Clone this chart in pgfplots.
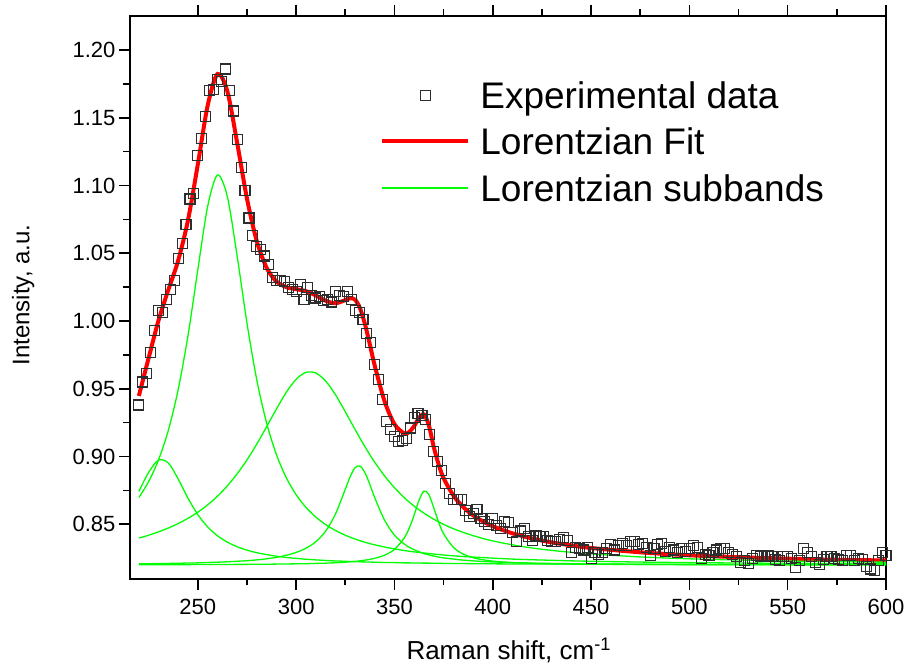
\documentclass[border=0pt]{standalone}
\usepackage{fontspec}
\setmainfont{Liberation Sans}
\usepackage{pgfplots}
\pgfplotsset{compat=1.18}
\usepackage{pgfplotstable}
\definecolor{fitred}{RGB}{255,0,0}
\definecolor{subgreen}{RGB}{0,255,0}
\definecolor{markgray}{RGB}{45,45,45}
\pgfplotsset{
  redleg/.style={legend image code/.code={\path (0pt,-20pt) (86pt,20pt); \draw[fitred, line width=4pt] (0pt,0pt) -- (86pt,0pt);}},
  greenleg/.style={legend image code/.code={\path (0pt,-20pt) (86pt,20pt); \draw[subgreen, line width=1.6pt] (0pt,0pt) -- (86pt,0pt);}},
  markleg/.style={legend image code/.code={\path (0pt,-20pt) (86pt,20pt); \draw[##1] plot coordinates {(43pt,0pt)};}},
}
\newcommand{\lrow}{\rule[-12pt]{0pt}{40pt}\hspace*{10pt}}

\pgfplotstableread{
x y
220 0.938
222 0.955
224 0.961
226 0.977
228 0.993
230 1.008
232 1.006
234 1.016
236 1.023
238 1.030
240 1.046
242 1.057
244 1.071
246 1.090
248 1.094
250 1.122
252 1.135
254 1.151
256 1.170
258 1.171
260 1.178
262 1.177
264 1.186
266 1.170
268 1.155
270 1.134
272 1.113
274 1.096
276 1.076
278 1.063
280 1.055
282 1.053
284 1.048
286 1.042
288 1.032
290 1.030
292 1.030
294 1.029
296 1.025
298 1.023
300 1.022
302 1.027
304 1.016
306 1.025
308 1.019
310 1.017
312 1.018
314 1.015
316 1.016
318 1.014
320 1.022
322 1.019
324 1.018
326 1.022
328 1.016
330 1.008
332 1.006
334 1.001
336 0.991
338 0.984
340 0.968
342 0.957
344 0.942
346 0.926
348 0.920
350 0.915
352 0.911
354 0.912
356 0.913
358 0.921
360 0.929
362 0.932
364 0.930
366 0.927
368 0.916
370 0.904
372 0.896
374 0.890
376 0.880
378 0.873
380 0.868
382 0.868
384 0.868
386 0.860
388 0.856
390 0.858
392 0.861
394 0.854
396 0.852
398 0.850
400 0.854
402 0.849
404 0.847
406 0.852
408 0.851
410 0.844
412 0.837
414 0.845
416 0.847
418 0.841
420 0.838
422 0.842
424 0.841
426 0.841
428 0.838
430 0.837
432 0.837
434 0.839
436 0.840
438 0.838
440 0.829
442 0.833
444 0.832
446 0.831
448 0.833
450 0.825
452 0.829
454 0.828
456 0.829
458 0.832
460 0.835
462 0.831
464 0.834
466 0.836
468 0.834
470 0.837
472 0.837
474 0.835
476 0.836
478 0.833
480 0.827
482 0.832
484 0.835
486 0.836
488 0.830
490 0.833
492 0.831
494 0.829
496 0.832
498 0.830
500 0.832
502 0.834
504 0.833
506 0.825
508 0.828
510 0.827
512 0.829
514 0.831
516 0.832
518 0.832
520 0.829
522 0.828
524 0.826
526 0.822
528 0.823
530 0.821
532 0.825
534 0.827
536 0.826
538 0.827
540 0.827
542 0.826
544 0.824
546 0.823
548 0.826
550 0.826
552 0.825
554 0.818
556 0.823
558 0.832
560 0.829
562 0.826
564 0.822
566 0.820
568 0.824
570 0.826
572 0.826
574 0.825
576 0.824
578 0.823
580 0.827
582 0.827
584 0.823
586 0.825
588 0.824
590 0.819
592 0.817
594 0.816
596 0.823
598 0.829
600 0.827
}\expdata

\pgfplotstableread{
x c1 c2 c3 c4 c5 fit
220 0.8742 0.8697 0.8398 0.8208 0.8202 0.9447
225 0.8883 0.8815 0.8419 0.8209 0.8202 0.9728
230 0.8974 0.8975 0.8444 0.8210 0.8202 1.0004
235 0.8952 0.9193 0.8472 0.8211 0.8202 1.0230
240 0.8834 0.9493 0.8505 0.8212 0.8202 1.0446
245 0.8692 0.9892 0.8544 0.8214 0.8202 1.0744
250 0.8571 1.0378 0.8589 0.8215 0.8203 1.1156
255 0.8480 1.0846 0.8643 0.8218 0.8203 1.1590
260 0.8415 1.1078 0.8707 0.8220 0.8203 1.1823
265 0.8368 1.0919 0.8783 0.8223 0.8203 1.1696
270 0.8334 1.0479 0.8872 0.8227 0.8204 1.1315
275 0.8309 0.9984 0.8975 0.8231 0.8204 1.0903
280 0.8290 0.9564 0.9092 0.8237 0.8205 1.0588
285 0.8276 0.9246 0.9220 0.8245 0.8205 1.0392
290 0.8264 0.9013 0.9351 0.8256 0.8206 1.0291
295 0.8255 0.8843 0.9474 0.8271 0.8207 1.0250
300 0.8248 0.8718 0.9570 0.8292 0.8208 1.0235
305 0.8242 0.8624 0.9621 0.8323 0.8209 1.0220
310 0.8237 0.8553 0.9616 0.8371 0.8211 1.0189
315 0.8233 0.8498 0.9557 0.8449 0.8213 1.0150
320 0.8229 0.8454 0.9456 0.8575 0.8216 1.0131
325 0.8227 0.8419 0.9330 0.8758 0.8220 1.0154
327.5 0.8225 0.8404 0.9264 0.8852 0.8223 1.0168
330 0.8224 0.8391 0.9199 0.8918 0.8226 1.0157
332.5 0.8223 0.8378 0.9134 0.8929 0.8230 1.0094
335 0.8222 0.8367 0.9072 0.8881 0.8235 0.9977
337.5 0.8221 0.8357 0.9013 0.8793 0.8241 0.9826
340 0.8220 0.8348 0.8957 0.8695 0.8249 0.9669
345 0.8218 0.8332 0.8856 0.8529 0.8272 0.9407
350 0.8217 0.8318 0.8770 0.8420 0.8314 0.9239
355 0.8215 0.8306 0.8696 0.8354 0.8399 0.9170
357.5 0.8215 0.8301 0.8664 0.8330 0.8471 0.9181
360 0.8214 0.8296 0.8634 0.8312 0.8568 0.9224
362.5 0.8214 0.8292 0.8607 0.8297 0.8677 0.9285
365 0.8213 0.8288 0.8582 0.8284 0.8745 0.9311
367.5 0.8213 0.8284 0.8559 0.8274 0.8719 0.9230
370 0.8212 0.8280 0.8537 0.8265 0.8621 0.9070
372.5 0.8212 0.8277 0.8518 0.8258 0.8514 0.8940
375 0.8211 0.8273 0.8499 0.8252 0.8430 0.8840
380 0.8211 0.8267 0.8467 0.8243 0.8329 0.8712
385 0.8210 0.8262 0.8440 0.8235 0.8280 0.8627
390 0.8209 0.8258 0.8416 0.8230 0.8253 0.8566
395 0.8209 0.8254 0.8395 0.8225 0.8238 0.8521
400 0.8208 0.8250 0.8377 0.8222 0.8228 0.8485
410 0.8207 0.8243 0.8348 0.8217 0.8217 0.8433
420 0.8207 0.8238 0.8325 0.8213 0.8212 0.8395
430 0.8206 0.8234 0.8307 0.8211 0.8208 0.8366
440 0.8206 0.8230 0.8293 0.8209 0.8206 0.8344
450 0.8205 0.8227 0.8281 0.8207 0.8205 0.8325
475 0.8204 0.8221 0.8259 0.8205 0.8203 0.8293
500 0.8203 0.8217 0.8245 0.8204 0.8202 0.8271
525 0.8203 0.8214 0.8236 0.8203 0.8201 0.8257
550 0.8202 0.8212 0.8229 0.8202 0.8201 0.8246
575 0.8202 0.8210 0.8224 0.8202 0.8201 0.8238
600 0.8202 0.8209 0.8220 0.8202 0.8201 0.8233
}\fitdata

\begin{document}
\begin{tikzpicture}
\begin{axis}[
  name=ax,
  scale only axis,
  width=756pt, height=563.3pt,
  xmin=215.5, xmax=600,
  ymin=0.8096, ymax=1.2253,
  xtick={250,300,350,400,450,500,550,600},
  ytick={0.85,0.90,0.95,1.00,1.05,1.10,1.15,1.20},
  minor x tick num=1, minor y tick num=1,
  tick align=outside,
  xtick pos=both, ytick pos=left,
  major tick length=11pt, minor tick length=6.5pt,
  every tick/.style={black, line width=1.6pt},
  axis line style={line width=2pt},
  /pgf/number format/assume math mode=true,
  tick label style={font=\fontsize{22}{25}\selectfont},
  yticklabel style={/pgf/number format/fixed, /pgf/number format/fixed zerofill, /pgf/number format/precision=2},
  xticklabel style={/pgf/number format/fixed, /pgf/number format/1000 sep={}, yshift=-6pt},
  xlabel={Raman shift, cm\textsuperscript{-1}},
  ylabel={Intensity, a.u.},
  xlabel style={font=\fontsize{26}{30}\selectfont, at={(axis description cs:0.501,-0.1426)}, anchor=base},
  ylabel style={font=\fontsize{24}{28}\selectfont, at={(axis description cs:-0.133,0.504)}, anchor=base},
  legend cell align=left,
  legend style={at={(rel axis cs:0.331,0.895)}, anchor=north west, draw=none, fill=none,
    font=\fontsize{37}{40}\selectfont, row sep=4pt, inner sep=0pt,
    nodes={inner sep=0pt}},
]
\addplot[only marks, mark=square, mark size=5pt,
  mark options={draw=markgray, fill=none, line width=1.1pt}, markleg]
  table[x=x, y=y] {\expdata};
\addlegendentry{\lrow Experimental data}
\addplot[fitred, line width=4pt, smooth, no marks, redleg]
  table[x=x, y=fit] {\fitdata};
\addlegendentry{\lrow Lorentzian Fit}
\addplot[subgreen, line width=1.3pt, smooth, no marks, greenleg]
  table[x=x, y=c1] {\fitdata};
\addlegendentry{\lrow Lorentzian subbands}
\addplot[subgreen, line width=1.3pt, smooth, no marks, forget plot] table[x=x, y=c2] {\fitdata};
\addplot[subgreen, line width=1.3pt, smooth, no marks, forget plot] table[x=x, y=c3] {\fitdata};
\addplot[subgreen, line width=1.3pt, smooth, no marks, forget plot] table[x=x, y=c4] {\fitdata};
\addplot[subgreen, line width=1.3pt, smooth, no marks, forget plot] table[x=x, y=c5] {\fitdata};
\end{axis}
\pgfresetboundingbox
\useasboundingbox ([xshift=-130pt,yshift=-92pt]ax.south west) rectangle ([xshift=20pt,yshift=15.7pt]ax.north east);
\end{tikzpicture}
\end{document}
